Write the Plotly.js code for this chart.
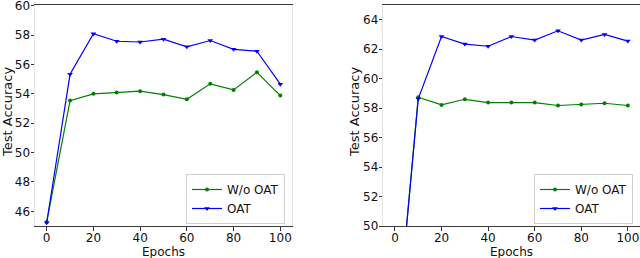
<!DOCTYPE html>
<html>
<head>
<meta charset="utf-8">
<script src="https://cdn.plot.ly/plotly-3.0.1.min.js"></script>
<style>html,body{margin:0;padding:0;background:#fff;}#chart{width:640px;height:258px;}</style>
</head>
<body>
<div id="chart"></div>
<script>
const epochs = [0, 10, 20, 30, 40, 50, 60, 70, 80, 90, 100];
// Left panel
const leftWoOAT = [45.27, 53.54, 54.0, 54.09, 54.18, 53.95, 53.63, 54.68, 54.27, 55.47, 53.88];
const leftOAT   = [45.22, 55.33, 58.1, 57.58, 57.53, 57.72, 57.2, 57.63, 57.03, 56.9, 54.66];
// Right panel
const rightWoOAT = [41.3, 58.74, 58.22, 58.6, 58.38, 58.38, 58.38, 58.18, 58.25, 58.33, 58.18];
const rightOAT   = [41.4, 58.63, 62.86, 62.35, 62.2, 62.86, 62.62, 63.25, 62.62, 63.0, 62.55];
const seriesNames = ["W/o OAT", "OAT"];
const xTitle = "Epochs";
const yTitle = "Test Accuracy";
const xTicks = [0, 20, 40, 60, 80, 100];
const leftYTicks = [46, 48, 50, 52, 54, 56, 58, 60];
const rightYTicks = [50, 52, 54, 56, 58, 60, 62, 64];

const GREEN = "#008000", BLUE = "#0000ff";
function tr(y, name, color, sym, size, xa, ya, leg) {
  return {x: epochs, y: y, name: name, type: "scatter", mode: "lines+markers",
    line: {color: color, width: 1.2}, marker: {color: color, symbol: sym, size: size},
    xaxis: xa, yaxis: ya, legend: leg, cliponaxis: true};
}
const data = [
  tr(leftWoOAT, seriesNames[0], GREEN, "circle", 4, "x", "y", "legend"),
  tr(leftOAT, seriesNames[1], BLUE, "triangle-down", 5, "x", "y", "legend"),
  tr(rightWoOAT, seriesNames[0], GREEN, "circle", 4, "x2", "y2", "legend2"),
  tr(rightOAT, seriesNames[1], BLUE, "triangle-down", 5, "x2", "y2", "legend2")
];
const TXT = "#111";
function xax(domain, anchor) {
  return {domain: domain, anchor: anchor, range: [-5, 105], tickvals: xTicks,
    ticks: "outside", ticklen: 3.5, tickcolor: "#333", showgrid: false, zeroline: false,
    showline: true, linecolor: "#3a3a3a", linewidth: 1.2, mirror: true,
    ticklabelstandoff: -3, ticklabeloverflow: "allow",
    tickfont: {family: "DejaVu Sans", size: 12, color: TXT}, automargin: false};
}
function yax(domain, anchor, range, ticks) {
  return {domain: domain, anchor: anchor, range: range, tickvals: ticks,
    ticks: "outside", ticklen: 3.5, tickcolor: "#333", showgrid: false, zeroline: false,
    showline: true, linecolor: "#e4e4e4", linewidth: 1, mirror: true,
    ticklabelstandoff: -2, ticklabeloverflow: "allow",
    tickfont: {family: "DejaVu Sans", size: 12, color: TXT}, automargin: false};
}
const yDom = [1 - 226 / 258, 1 - 5 / 258];
function ann(text, xpx, ypx, angle, size) {
  return {text: text, xref: "paper", yref: "paper", x: xpx / 640, y: 1 - ypx / 258,
    xanchor: "center", yanchor: "middle", showarrow: false, textangle: angle,
    font: {family: "DejaVu Sans", size: size, color: TXT}};
}
const legendStyle = {bgcolor: "#fff", bordercolor: "#d0d0d0", borderwidth: 1,
  font: {family: "DejaVu Sans", size: 12, color: TXT}, tracegroupgap: 0,
  xanchor: "right", yanchor: "bottom"};
const layout = {
  width: 640, height: 258, margin: {l: 0, r: 0, t: 0, b: 0},
  paper_bgcolor: "#fff", plot_bgcolor: "#fff", showlegend: true,
  font: {family: "DejaVu Sans", size: 12, color: TXT},
  xaxis: xax([35 / 640, 292 / 640], "y"),
  yaxis: yax(yDom, "x", [45, 60.05], leftYTicks),
  xaxis2: xax([383.3 / 640, 639.5 / 640], "y2"),
  yaxis2: yax(yDom, "x2", [50, 65], rightYTicks),
  legend: Object.assign({x: 285 / 640, y: 1 - 224 / 258}, legendStyle),
  legend2: Object.assign({x: 633 / 640, y: 1 - 224 / 258}, legendStyle),
  annotations: [
    ann(xTitle, 163, 251.5, 0, 12),
    ann(xTitle, 511, 251.5, 0, 12),
    ann(yTitle, 7, 112, -90, 13),
    ann(yTitle, 354, 112, -90, 13)
  ]
};
Plotly.newPlot("chart", data, layout, {displayModeBar: false, staticPlot: true});
</script>
</body>
</html>
